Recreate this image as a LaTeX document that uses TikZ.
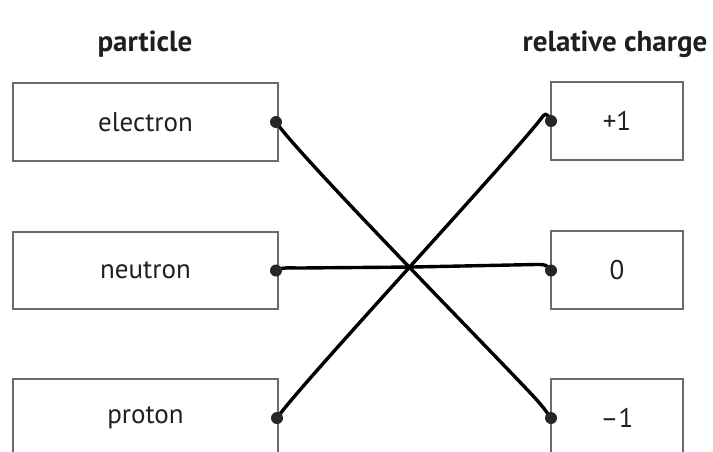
\documentclass[tikz,border=0pt]{standalone}
\usepackage{fontspec}
\setmainfont{PT Sans}
\pgfdeclarelayer{background}
\pgfsetlayers{background,main}
\begin{document}
\begin{tikzpicture}[x=1pt,y=-1pt,
  box/.style={draw=black!58, line width=1.6pt, fill=white, inner sep=0pt,
              font=\fontsize{27}{30}\selectfont, text=black!88},
  leftbox/.style={box, minimum width=265pt},
  rightbox/.style={box, minimum width=132pt},
  head/.style={font=\bfseries\fontsize{29}{32}\selectfont, text=black!88, anchor=base},
  dot/.style={circle, fill=black!85, inner sep=0pt, minimum size=12pt},
  wire/.style={line width=3.4pt, line cap=round, line join=round}]
\clip (0,0) rectangle (713,451);

% column headings
\node[head] (hpart) at (145,51) {particle};
\node[head] (hcharge) at (615,51) {relative charge};

% particle boxes
\node[leftbox, minimum height=78pt] (electron) at (145.5,122) {electron};
\node[leftbox, minimum height=77pt] (neutron) at (145.5,270.5) {neutron};
\node[leftbox, minimum height=78pt] (proton) at (145.5,418) {proton};

% charge boxes
\node[rightbox, minimum height=78pt] (plus) at (617,121) {+1};
\node[rightbox, minimum height=78pt] (zero) at (617,270) {0};
\node[rightbox, minimum height=78pt] (minus) at (617,418) {\char"2013 1};

% connection dots
\node[dot] (eL) at (276,122) {};
\node[dot] (nL) at (276,270.5) {};
\node[dot] (pL) at (277,418) {};
\node[dot] (pR) at (551,121) {};
\node[dot] (zR) at (551,270.5) {};
\node[dot] (mR) at (551,418) {};

% hand-drawn matching lines
\begin{pgfonlayer}{background}
\fill[white] (0,0) rectangle (713,451);
\draw[wire] (eL.center) .. controls (298,155) and (500,360) .. (535,398)
            .. controls (543,407) .. (mR.center);
\draw[wire] (nL.center) .. controls (282,267) and (290,268) .. (300,268)
            -- (413,267) -- (536,264.5) .. controls (546,264.5) .. (zR.center);
\draw[wire] (pL.center) .. controls (300,385) and (500,170) .. (540,120)
            .. controls (546,112) .. (pR.center);
\end{pgfonlayer}
\end{tikzpicture}
\end{document}
